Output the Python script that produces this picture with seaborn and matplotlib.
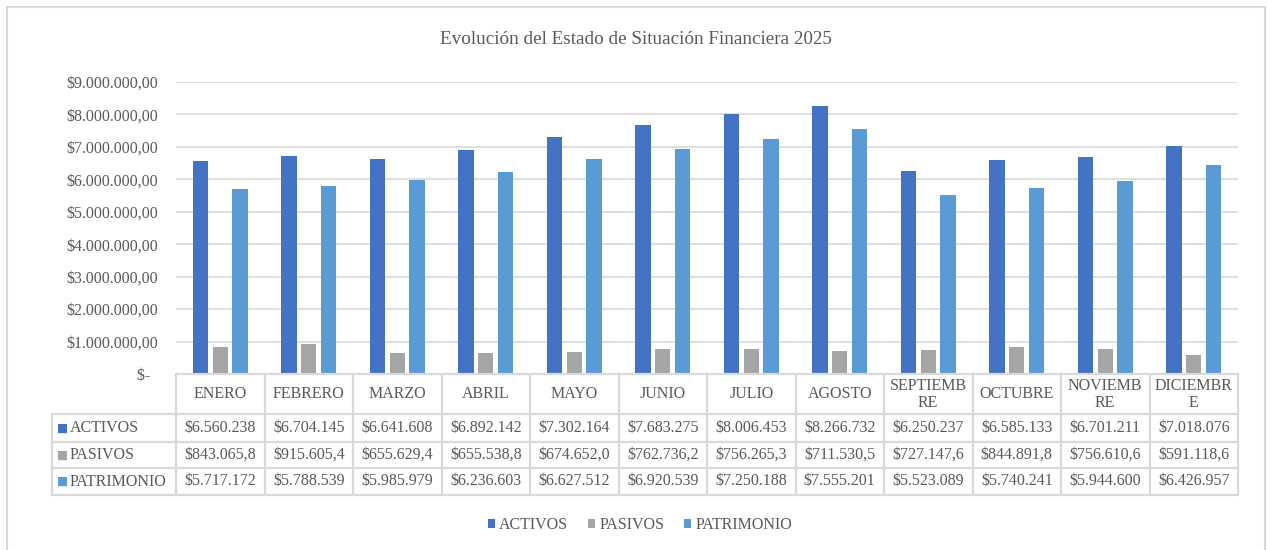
import matplotlib
matplotlib.use("Agg")
import matplotlib.pyplot as plt
import matplotlib.font_manager as fm
import matplotlib.transforms as mtransforms
from matplotlib.lines import Line2D
from matplotlib.patches import Patch
import seaborn as sns
import pandas as pd

# ---------------- data ----------------
meses = ["ENERO", "FEBRERO", "MARZO", "ABRIL", "MAYO", "JUNIO", "JULIO",
         "AGOSTO", "SEPTIEMBRE", "OCTUBRE", "NOVIEMBRE", "DICIEMBRE"]
etiquetas_tabla = ["ENERO", "FEBRERO", "MARZO", "ABRIL", "MAYO", "JUNIO", "JULIO",
                   "AGOSTO", "SEPTIEMB\nRE", "OCTUBRE", "NOVIEMB\nRE", "DICIEMBR\nE"]
series = ["ACTIVOS", "PASIVOS", "PATRIMONIO"]
activos = [6560238, 6704145, 6641608, 6892142, 7302164, 7683275, 8006453,
           8266732, 6250237, 6585133, 6701211, 7018076]
pasivos = [843065.8, 915605.4, 655629.4, 655538.8, 674652.0, 762736.2, 756265.3,
           711530.5, 727147.6, 844891.8, 756610.6, 591118.6]
patrimonio = [5717172, 5788539, 5985979, 6236603, 6627512, 6920539, 7250188,
              7555201, 5523089, 5740241, 5944600, 6426957]
decimales = [0, 1, 0]
y_ticks = [0, 1e6, 2e6, 3e6, 4e6, 5e6, 6e6, 7e6, 8e6, 9e6]
titulo = "Evolución del Estado de Situación Financiera 2025"

colores = ["#4472C4", "#A5A5A5", "#5B9BD5"]
texto = "#595959"
linea = "#D9D9D9"

valores = [activos, pasivos, patrimonio]
df = pd.DataFrame({
    "mes": [m for s in series for m in meses],
    "serie": [s for s in series for _ in meses],
    "valor": [v for vals in valores for v in vals],
})

# ---------------- fonts ----------------
sns.set_style("white")
plt.rcParams["font.family"] = ["Liberation Serif", "DejaVu Sans"]

W, H = 1267, 550
fig = plt.figure(figsize=(W / 100, H / 100), dpi=100)
fx = lambda px: px / W
fy = lambda py: 1 - py / H

ax = fig.add_axes([fx(176), fy(374), fx(1238) - fx(176), fy(82) - fy(374)])
sns.barplot(data=df, x="mes", y="valor", hue="serie", order=meses,
            hue_order=series, palette=colores, width=0.667, dodge=True,
            saturation=1, legend=False, ax=ax, errorbar=None)
bw = 0.175
for p in ax.patches:
    c = p.get_x() + p.get_width() / 2
    p.set_x(c - bw / 2)
    p.set_width(bw)
    p.set_linewidth(0)

ax.set_xlim(-0.5, len(meses) - 0.5)
ax.set_ylim(0, 9e6)
ax.set_yticks(y_ticks)


def fmt_money(v, dec=2):
    if v == 0:
        return "$-  "
    s = f"{v:,.{dec}f}"
    s = s.replace(",", "X").replace(".", ",").replace("X", ".")
    return "$" + s


ax.set_yticklabels([fmt_money(v) for v in y_ticks])
ax.tick_params(axis="y", length=0, pad=13, labelsize=11.5, labelcolor=texto)
ax.set_xticks([])
ax.set_xlabel("")
ax.set_ylabel("")
for s in ax.spines.values():
    s.set_visible(False)
ax.yaxis.grid(True, color=linea, linewidth=1.2)
ax.set_axisbelow(True)

# ---------------- data table ----------------
tr = mtransforms.blended_transform_factory(ax.transData, fig.transFigure)
n = len(meses)
left_col = -0.5 - (176 - 52) / 88.5
lw_t = 1.6
y_top, y_hdr, rows_bottom = 374, 414, [442, 468, 495]
fig.add_artist(Line2D([-0.5, n - 0.5], [fy(y_top)] * 2, transform=tr, color=linea, lw=lw_t))
for yy in [y_hdr] + rows_bottom:
    fig.add_artist(Line2D([left_col, n - 0.5], [fy(yy)] * 2, transform=tr, color=linea, lw=lw_t))
for i in range(n + 1):
    fig.add_artist(Line2D([i - 0.5] * 2, [fy(y_top), fy(rows_bottom[-1])], transform=tr,
                          color=linea, lw=lw_t))
fig.add_artist(Line2D([left_col] * 2, [fy(y_hdr), fy(rows_bottom[-1])], transform=tr,
                      color=linea, lw=lw_t))

for i, lab in enumerate(etiquetas_tabla):
    fig.text(i, fy(394.5), lab, transform=tr, ha="center", va="center",
             fontsize=11.5, color=texto, linespacing=1.05)

row_tops = [y_hdr] + rows_bottom[:-1]
for r, (nombre, vals, dec, col) in enumerate(zip(series, valores, decimales, colores)):
    yc = (row_tops[r] + rows_bottom[r]) / 2
    fig.text(fx(57), fy(yc), "■", ha="left", va="center", fontsize=8.5,
             color=col, family=["DejaVu Sans"])
    fig.text(fx(70), fy(yc), nombre, ha="left", va="center", fontsize=11.5, color=texto)
    for i, v in enumerate(vals):
        fig.text(i, fy(yc), fmt_money(v, dec), transform=tr, ha="center", va="center",
                 fontsize=11.5, color=texto)

fig.text(fx(636), fy(40), titulo, ha="center", va="center", fontsize=13.8, color=texto)

handles = [Patch(facecolor=c, edgecolor="none", label=s) for s, c in zip(series, colores)]
leg = fig.legend(handles=handles, loc="center", bbox_to_anchor=(fx(640), fy(525)),
                 ncol=3, frameon=False, fontsize=11.5, handlelength=0.45,
                 handleheight=0.45, handletextpad=0.25, columnspacing=1.25,
                 borderpad=0)
for t in leg.get_texts():
    t.set_color(texto)

for xs, ys in [([6.5, 6.5], [560, 6.5]), ([6.5, 1265], [6.5, 6.5]), ([1265, 1265], [6.5, 560])]:
    fig.add_artist(Line2D([fx(x) for x in xs], [fy(y) for y in ys], color=linea, lw=1.5))

fig.savefig("out.png", dpi=100)
